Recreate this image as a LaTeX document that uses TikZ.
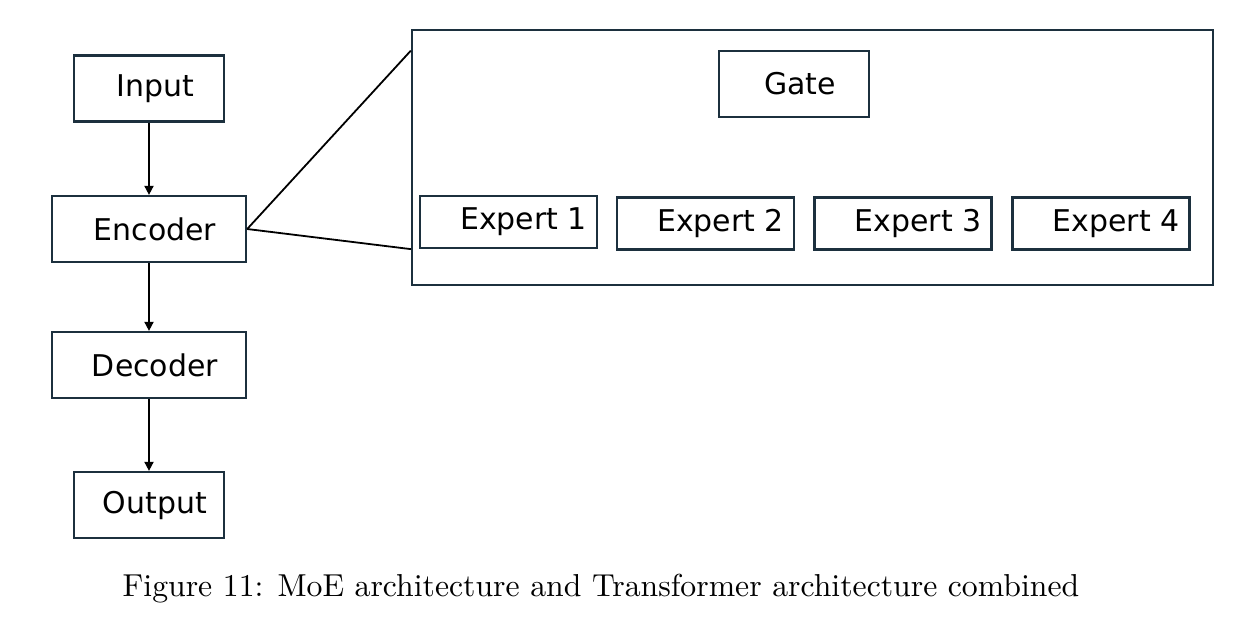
\documentclass[tikz,border=0pt]{standalone}
\usepackage{fontspec}
\newfontfamily\boxfont{DejaVu Sans}
\usepackage{tikz}
\usetikzlibrary{positioning}
\usetikzlibrary{arrows, arrows.meta}
\definecolor{boxline}{RGB}{28,48,62}

\begin{document}
\begin{tikzpicture}[x=0.334pt, y=-0.334pt,
    blk/.style={draw=boxline, line width=0.8pt, rectangle, inner sep=0pt,
      font=\boxfont\fontsize{10}{12}\selectfont,
      execute at begin node={\hspace*{4pt}}},
    expblk/.style={blk, minimum width=\expw, minimum height=\exph,
      execute at begin node={\hspace*{6pt}}},
    flow/.style={-{Triangle[length=3pt,width=3pt]}, line width=0.6pt}]
  \useasboundingbox (0,0) rectangle (1238,624);
  \def\smallw{50.1pt}
  \def\widew{64.8pt}
  \def\blkh{22pt}
  \def\expw{59.1pt}
  \def\exph{17.4pt}

  % transformer column
  \node[blk, minimum width=\smallw, minimum height=\blkh] (input) at (149,88.5) {Input};
  \node[blk, minimum width=\widew, minimum height=\blkh] (encoder) at (149,229) {Encoder};
  \node[blk, minimum width=\widew, minimum height=\blkh] (decoder) at (149,365) {Decoder};
  \node[blk, minimum width=\smallw, minimum height=\blkh] (output) at (149,505) {Output};

  \draw[flow] (input) -- (encoder);
  \draw[flow] (encoder) -- (decoder);
  \draw[flow] (decoder) -- (output);

  % MoE layer
  \node[draw=boxline, line width=0.8pt, minimum width=267.5pt, minimum height=85.2pt, inner sep=0pt] (moe) at (812.5,157.5) {};
  \node[blk, minimum width=\smallw, minimum height=\blkh] (gate) at (794,84) {Gate};
  \node[expblk] (exp1) at (508.5,222) {Expert 1};
  \node[expblk] (exp2) at (705.5,223.5) {Expert 2};
  \node[expblk] (exp3) at (903,223.5) {Expert 3};
  \node[expblk] (exp4) at (1101,223.5) {Expert 4};

  % zoom lines
  \coordinate (zoomtop) at ([yshift=-7.3pt]moe.north west);
  \coordinate (zoombot) at ([yshift=12.4pt]moe.south west);
  \draw[line width=0.6pt] (encoder.east) -- (zoomtop);
  \draw[line width=0.6pt] (encoder.east) -- (zoombot);

  \node[font=\fontsize{10.6}{13}\selectfont] (caption) at (601,589) {Figure 11: MoE architecture and Transformer architecture combined};
\end{tikzpicture}
\end{document}
